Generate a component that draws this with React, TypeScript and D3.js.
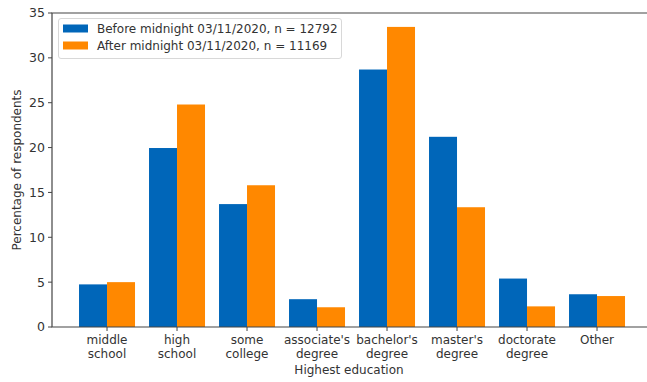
import { useEffect, useRef } from "react";
import * as d3 from "d3";

// categories (each label split into lines as in the figure)
const categories = [
  ["middle", "school"],
  ["high", "school"],
  ["some", "college"],
  ["associate's", "degree"],
  ["bachelor's", "degree"],
  ["master's", "degree"],
  ["doctorate", "degree"],
  ["Other"],
];
const beforeValues = [4.75, 19.95, 13.7, 3.1, 28.7, 21.2, 5.4, 3.65];
const afterValues = [5.0, 24.8, 15.8, 2.2, 33.45, 13.35, 2.3, 3.45];
const seriesNames = [
  "Before midnight 03/11/2020, n = 12792",
  "After midnight 03/11/2020, n = 11169",
];
const seriesColors = ["#0066b9", "#ff8800"];
const yTicks = [0, 5, 10, 15, 20, 25, 30, 35];

const W = 647;
const H = 382;
const FONT = "'DejaVu Sans', sans-serif";
const TEXT = "#333";
const AXIS = "#444";

function Chart() {
  const ref = useRef<SVGSVGElement | null>(null);

  useEffect(() => {
    const svg = d3.select(ref.current);
    svg.selectAll("*").remove();

    const left = 52, top = 13, bottom = 327;
    // numeric x like matplotlib: index units, bars 0.4 wide each
    const x = d3.scaleLinear().domain([-0.786, 7.786]).range([left, left + 8.572 * 70]);
    const y = d3.scaleLinear().domain([0, 35]).range([bottom, top]);
    const bw = 0.4;

    const data = [beforeValues, afterValues];
    data.forEach((vals, s) => {
      svg.append("g")
        .selectAll("rect")
        .data(vals)
        .join("rect")
        .attr("x", (_, i) => x(i - bw + s * bw))
        .attr("width", x(bw) - x(0))
        .attr("y", (d) => y(d))
        .attr("height", (d) => y(0) - y(d))
        .attr("fill", seriesColors[s]);
    });

    // spines
    svg.append("path")
      .attr("d", `M${W},${top}H${left}V${bottom}H${W}`)
      .attr("fill", "none")
      .attr("stroke", AXIS)
      .attr("stroke-width", 1.2);

    // y ticks
    const yg = svg.append("g");
    yTicks.forEach((t) => {
      yg.append("line")
        .attr("x1", left - 4).attr("x2", left)
        .attr("y1", y(t)).attr("y2", y(t))
        .attr("stroke", AXIS);
      yg.append("text")
        .attr("x", left - 7).attr("y", y(t))
        .attr("dy", "0.35em")
        .attr("text-anchor", "end")
        .attr("font-size", 12.5)
        .attr("font-family", FONT)
        .attr("fill", TEXT)
        .text(t);
    });

    // x ticks
    const xg = svg.append("g");
    categories.forEach((lines, i) => {
      xg.append("line")
        .attr("x1", x(i)).attr("x2", x(i))
        .attr("y1", bottom).attr("y2", bottom + 4)
        .attr("stroke", AXIS);
      const t = xg.append("text")
        .attr("text-anchor", "middle")
        .attr("font-size", 12)
        .attr("font-family", FONT)
        .attr("fill", TEXT);
      lines.forEach((l, k) => {
        t.append("tspan").attr("x", x(i)).attr("y", 344 + k * 14).text(l);
      });
    });

    svg.append("text")
      .attr("x", (left + 652) / 2 - 3).attr("y", 374)
      .attr("text-anchor", "middle")
      .attr("font-size", 12)
      .attr("font-family", FONT)
      .attr("fill", TEXT)
      .text("Highest education");

    svg.append("text")
      .attr("transform", `translate(21,${(top + bottom) / 2}) rotate(-90)`)
      .attr("text-anchor", "middle")
      .attr("font-size", 12)
      .attr("font-family", FONT)
      .attr("fill", TEXT)
      .text("Percentage of respondents");

    // legend
    const lg = svg.append("g");
    lg.append("rect")
      .attr("x", 58.5).attr("y", 18.5)
      .attr("width", 283).attr("height", 40)
      .attr("rx", 2.5)
      .attr("fill", "white")
      .attr("fill-opacity", 0.85)
      .attr("stroke", "#d8d8d8");
    seriesNames.forEach((name, s) => {
      const cy = 28.5 + s * 17;
      lg.append("rect")
        .attr("x", 63).attr("y", cy - 4)
        .attr("width", 25).attr("height", 8)
        .attr("fill", seriesColors[s]);
      lg.append("text")
        .attr("x", 97).attr("y", cy)
        .attr("dy", "0.35em")
        .attr("font-size", 12)
        .attr("font-family", FONT)
        .attr("fill", TEXT)
        .text(name);
    });
  }, []);

  return (
    <svg ref={ref} width={W} height={H}
      style={{ position: "absolute", left: 0, top: 0, background: "white" }} />
  );
}

export default function App() {
  return <Chart />;
}
